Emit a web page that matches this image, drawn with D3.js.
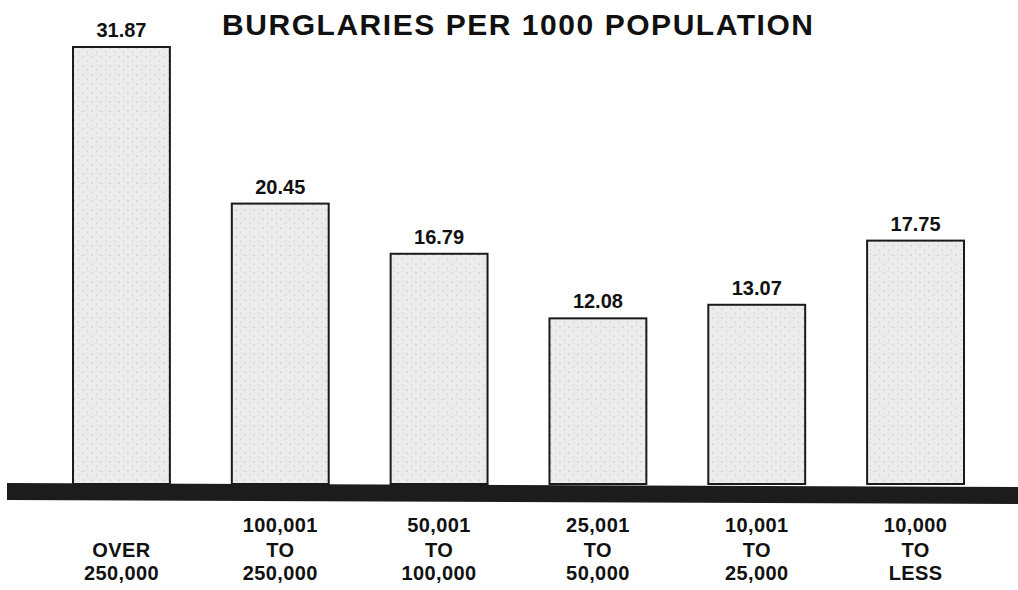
<!DOCTYPE html>
<html><head><meta charset="utf-8">
<script src="https://cdn.jsdelivr.net/npm/d3@7"></script>
<style>body{margin:0;background:#fff}svg{display:block}</style>
</head><body><svg id="c" width="1018" height="590"></svg>
<script>
const title = "BURGLARIES PER 1000 POPULATION";
const categories = ["OVER 250,000","100,001 TO 250,000","50,001 TO 100,000","25,001 TO 50,000","10,001 TO 25,000","10,000 TO LESS"];
const labelLines = [["OVER","250,000"],["100,001","TO","250,000"],["50,001","TO","100,000"],["25,001","TO","50,000"],["10,001","TO","25,000"],["10,000","TO","LESS"]];
const values = [31.87, 20.45, 16.79, 12.08, 13.07, 17.75];

const svg = d3.select("#c");
const font = "'Liberation Sans', Arial, Helvetica, sans-serif";

const defs = svg.append("defs");
const pat = defs.append("pattern").attr("id","stip").attr("patternUnits","userSpaceOnUse").attr("width",9).attr("height",9);
pat.append("rect").attr("width",9).attr("height",9).attr("fill","#ececec");
pat.append("circle").attr("cx",2).attr("cy",3).attr("r",0.6).attr("fill","#999");
pat.append("circle").attr("cx",6.5).attr("cy",7).attr("r",0.5).attr("fill","#aaa");
pat.append("circle").attr("cx",7).attr("cy",1.5).attr("r",0.4).attr("fill","#bbb");

const x = d3.scaleBand().domain(categories).range([73, 964]).paddingInner(0.39).paddingOuter(0);
const y = d3.scaleLinear().domain([0, 31.87]).range([484, 47]);

svg.append("text").attr("x", 222).attr("y", 35)
  .attr("font-family", font).attr("font-weight","bold").attr("font-size", 30)
  .attr("textLength", 591).attr("lengthAdjust","spacing")
  .attr("fill","#111").text(title);

svg.selectAll("rect.bar").data(values).join("rect").attr("class","bar")
  .attr("x",(d,i)=>x(categories[i])).attr("width",x.bandwidth())
  .attr("y",d=>y(d)).attr("height",d=>y(0)-y(d))
  .attr("fill","url(#stip)").attr("stroke","#1a1a1a").attr("stroke-width",2);

svg.selectAll("text.val").data(values).join("text").attr("class","val")
  .attr("x",(d,i)=>x(categories[i])+x.bandwidth()/2).attr("y",d=>y(d)-10)
  .attr("text-anchor","middle").attr("font-family",font).attr("font-weight","bold")
  .attr("font-size",20).attr("fill","#111").text(d=>d.toFixed(2));

// baseline band
svg.append("path").attr("d","M7,483 L1018,487 L1018,504 L7,500 Z").attr("fill","#1c1c1c");

const lineY = [532, 557, 580];
labelLines.forEach((lines,i)=>{
  const cx = x(categories[i]) + x.bandwidth()/2;
  const offset = 3 - lines.length;
  lines.forEach((t,j)=>{
    svg.append("text").attr("x",cx).attr("y",lineY[j+offset]).attr("text-anchor","middle")
      .attr("font-family",font).attr("font-weight","bold").attr("font-size",20)
      .attr("letter-spacing",0.4).attr("fill","#111").text(t);
  });
});
</script></body></html>
